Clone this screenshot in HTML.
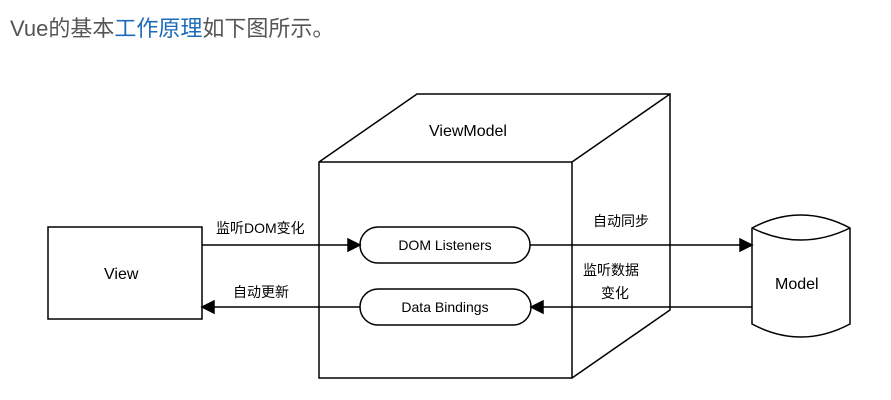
<!DOCTYPE html>
<html><head><meta charset="utf-8"><style>
body{margin:0;background:#fff;width:891px;height:400px;overflow:hidden}
.t{position:absolute;left:10px;top:11px;font:22px "Liberation Sans","Noto Sans CJK SC",sans-serif;color:#555;white-space:nowrap}
.t span{color:#1e6bb8}
svg{position:absolute;left:0;top:0}
</style></head><body>
<div class="t">Vue的基本<span>工作原理</span>如下图所示。</div>
<svg width="891" height="400" font-family="Liberation Sans, Noto Sans CJK SC, sans-serif" fill="none" stroke="#000" stroke-width="1.5">
<polygon points="319,162 417,94 670,94 670,310 572,378 319,378"/>
<polyline points="319,162 572,162 670,94"/>
<line x1="572" y1="162" x2="572" y2="378"/>
<rect x="48" y="227" width="154" height="92"/>
<rect x="360" y="227" width="170" height="36" rx="18"/>
<rect x="360" y="289" width="171" height="36" rx="18"/>
<line x1="202" y1="245" x2="348" y2="245"/>
<polygon points="348,239 360,245 348,251" fill="#000"/>
<line x1="530" y1="245" x2="740" y2="245"/>
<polygon points="740,239 752,245 740,251" fill="#000"/>
<line x1="752" y1="307" x2="543" y2="307"/>
<polygon points="543,301 531,307 543,313" fill="#000"/>
<line x1="360" y1="307" x2="214" y2="307"/>
<polygon points="214,301 202,307 214,313" fill="#000"/>
<path d="M752,228 Q801,202 850,228 L850,324 Q801,350 752,324 Z M752,228 Q801,252 850,228"/>
<g fill="#000" stroke="none" font-size="14">
<text x="429" y="136" font-size="16">ViewModel</text>
<text x="104" y="279" font-size="16">View</text>
<text x="775" y="289" font-size="16">Model</text>
<text x="445" y="250" text-anchor="middle">DOM Listeners</text>
<text x="445" y="312" text-anchor="middle">Data Bindings</text>
<text x="216" y="233">监听DOM变化</text>
<text x="233" y="297">自动更新</text>
<text x="593" y="226">自动同步</text>
<text x="583" y="275">监听数据</text>
<text x="601" y="298">变化</text>
</g>
</svg>
</body></html>
